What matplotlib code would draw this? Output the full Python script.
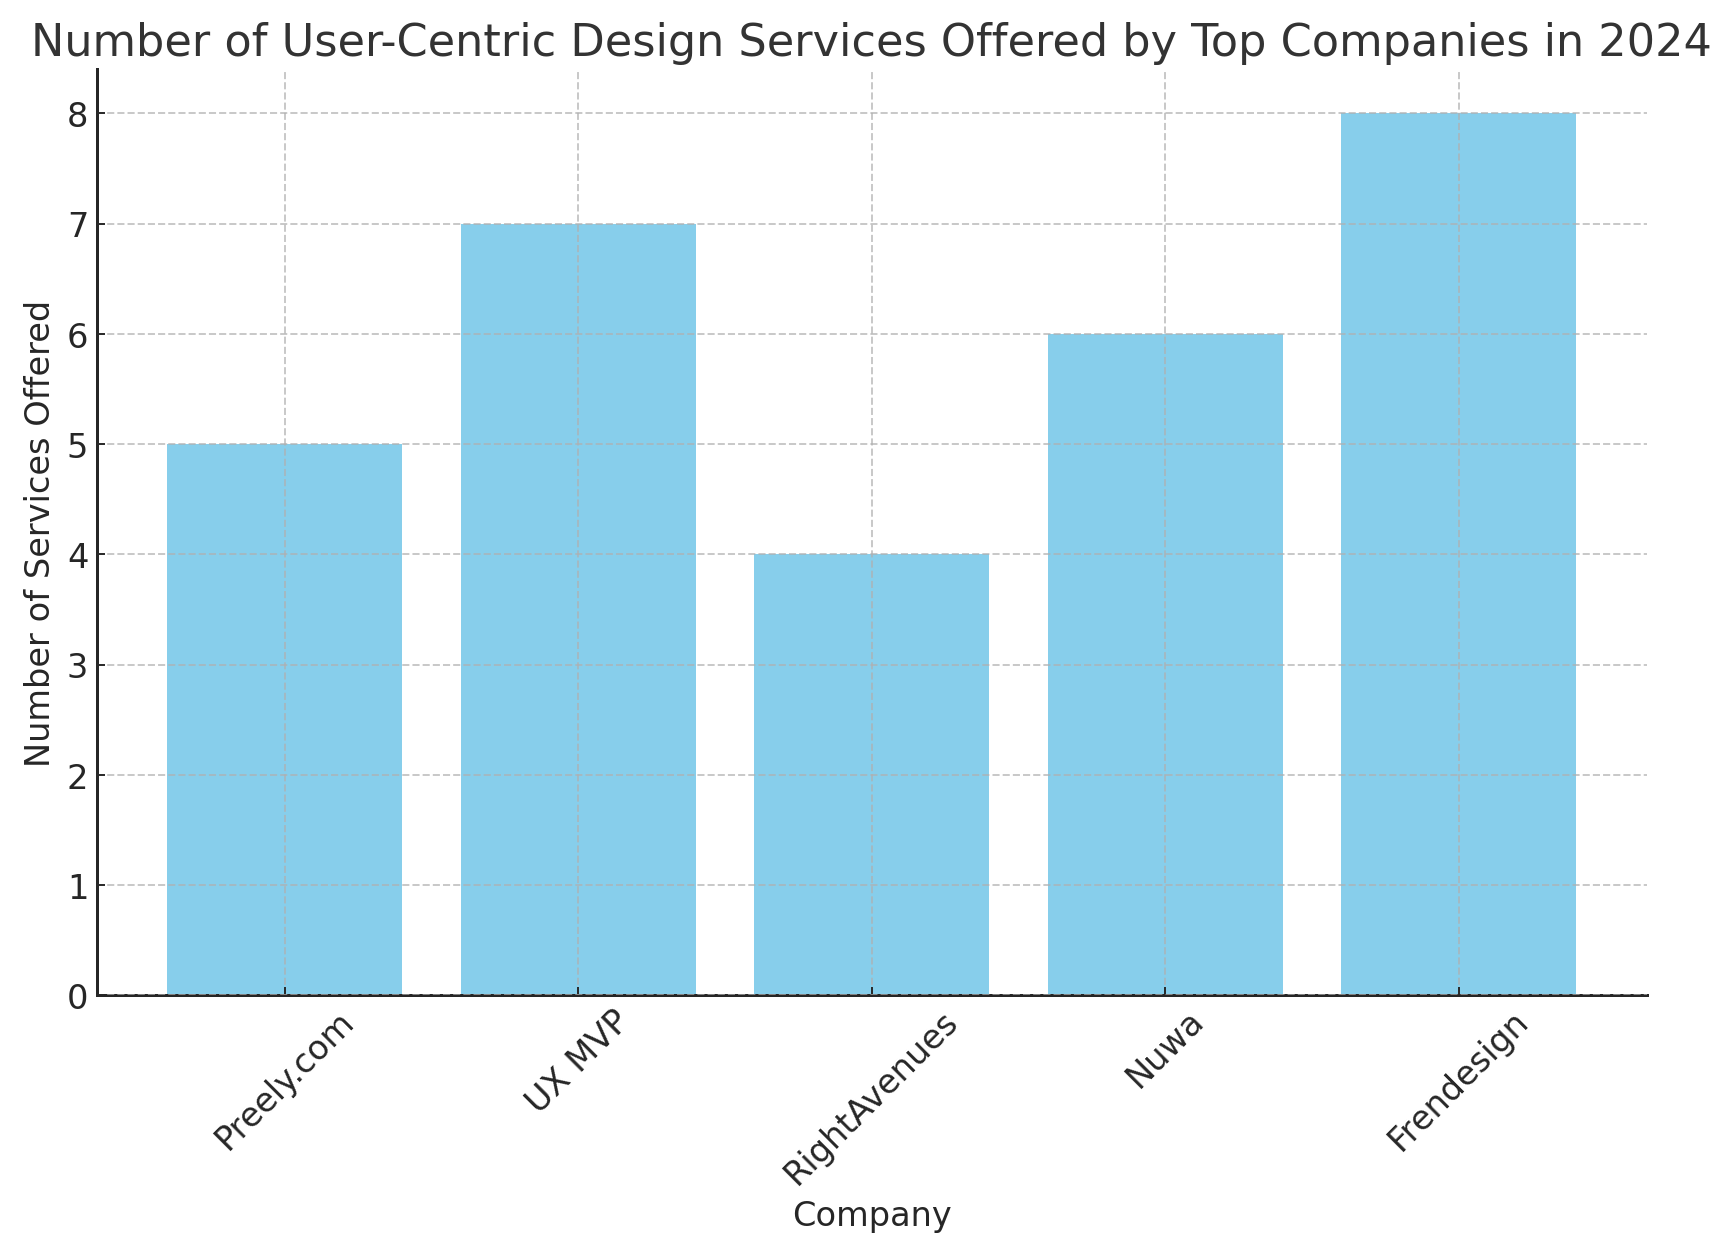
import matplotlib.pyplot as plt

companies = ["Preely.com", "UX MVP", "RightAvenues", "Nuwa", "Frendesign"]
services = [5, 7, 4, 6, 8]

fig, ax = plt.subplots(figsize=(10, 7.25), dpi=172.8)

ax.bar(companies, services, color="skyblue")

ax.set_title("Number of User-Centric Design Services Offered by Top Companies in 2024",
             fontsize=18.6, color="#333333")
ax.set_xlabel("Company", fontsize=14, color="#262626")
ax.set_ylabel("Number of Services Offered", fontsize=14, color="#262626")
ax.tick_params(axis="x", rotation=45, labelsize=14, direction="in", colors="#262626")
ax.tick_params(axis="y", labelsize=14, direction="in", colors="#262626")
ax.grid(True, linestyle="--", color="#b0b0b0", alpha=0.7)
ax.set_axisbelow(False)
ax.spines["top"].set_visible(False)
ax.spines["right"].set_visible(False)
for side in ("left", "bottom"):
    ax.spines[side].set_color("#262626")
    ax.spines[side].set_linewidth(1.25)

fig.subplots_adjust(left=0.056, right=0.957 - 0.004, top=0.944, bottom=0.205)
plt.savefig("out.png")
